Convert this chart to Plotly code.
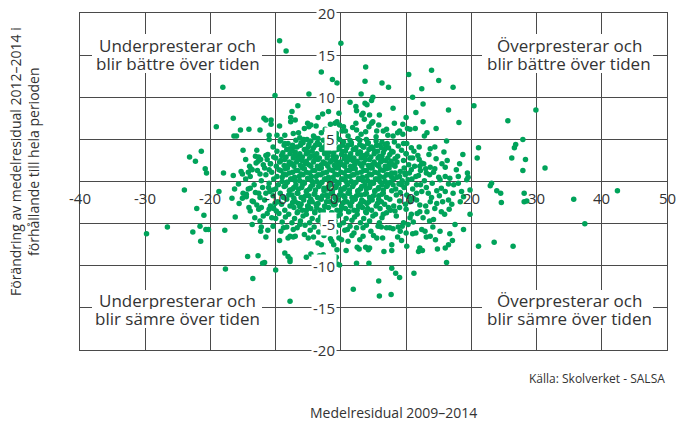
import plotly.graph_objects as go

# ---------------- data ----------------
upper_left = [(-9.4,16.7),(-8.4,15.5),(0.0,16.4),(-3.0,13.0),(-1.3,12.1),(-0.6,11.7),(-18.1,11.2),(-10.1,10.2),(-4.9,10.4),
    (-19.1,6.5),(-16.5,7.5),(-15.4,6.1),(-14.1,6.2),(-12.4,6.1),(-11.8,7.5),(-11.5,7.3),(-10.7,7.3),(-10.7,6.8),(-9.4,6.6),
    (-7.5,8.3),(-6.6,9.0),(-7.7,7.6),(-7.7,7.1),(-7.0,7.3),(-5.1,6.9),(-4.6,6.7),(-4.9,6.5),(-3.5,7.6),(-2.8,8.0),(-1.9,8.3),
    (-16.4,5.4),(-16.0,5.4),(-11.0,5.5),(-11.0,5.0),(-9.8,5.5),(-9.2,5.0),(-6.5,5.8),(-6.3,5.2),(-5.7,5.0),(-3.5,5.1),(-1.9,5.2),
    (-0.7,5.3),(-23.2,2.9),(-22.3,2.4),(-21.4,3.6),(-20.8,1.5),(-20.6,1.0),(-18.0,1.0),(-15.0,3.7),(-14.6,2.6),(-15.1,0.9),
    (-12.9,3.7),(-13.1,3.0),(-12.6,2.9),(-12.7,2.4),(-13.8,1.5),(-13.6,1.4),(-14.2,1.1),(-12.4,0.9),(-11.5,3.1),(-11.3,2.6),
    (-11.9,2.0),(-11.0,1.4),(-10.8,2.1),(-10.3,2.9)]

upper_right = [(3.8,13.6),(3.7,11.9),(6.3,11.7),(7.3,11.2),(10.4,12.7),(13.9,13.2),(15.0,12.0),(17.2,11.2),(12.4,11.0),
    (3.1,10.4),(4.9,10.0),(4.7,9.6),(1.4,9.4),(2.4,8.4),(2.3,8.9),(3.7,9.3),(4.0,9.1),(3.4,8.1),(3.2,7.9),(3.6,7.4),(4.4,7.9),
    (4.9,7.1),(5.9,7.9),(8.0,8.7),(11.0,10.0),(12.6,9.2),(11.5,8.2),(10.0,7.6),(9.5,6.8),(10.6,6.2),(11.4,6.3),(12.6,7.1),
    (13.2,5.8),(16.5,8.5),(18.1,7.0),(20.4,9.0),(-0.3,8.1),(-0.9,6.9),(-0.6,7.1),(-0.2,6.7),(0.4,6.5),(0.2,6.0),(0.7,6.0),
    (2.3,6.9),(2.4,6.1),(3.8,5.9),(4.3,6.5),(4.7,6.9),(5.5,6.0),(6.5,6.0),(8.7,5.8),(9.0,6.0),(8.0,5.4),(10.2,6.3),(16.2,4.8),
    (21.1,4.0),(20.9,2.8),(15.8,3.5),(14.4,4.1),(13.7,3.9),(12.0,4.1),(18.7,3.2),(18.2,2.1),(17.7,1.4),(18.0,0.6),(16.7,0.4),
    (19.4,1.0),(19.5,0.5),(13.7,1.7),(14.4,1.5),(15.0,0.5),(13.1,1.0),(12.0,2.6),(12.1,1.8),(12.7,2.1),(10.8,1.4),(11.9,0.7),
    (10.1,4.5),(10.0,3.3),(10.6,2.8),(6.3,4.7),(5.5,4.3),(3.5,4.1),(4.6,4.0),(7.8,0.5),(9.0,0.6),(9.8,1.0),
    (29.9,8.5),(25.6,7.2),(27.9,5.0),(26.8,4.4),(26.6,4.0),(26.2,2.8),(28.3,2.6),(27.9,1.3),(31.3,1.6)]

lower_left = [(-24.0,-1.0),(-22.1,-3.2),(-21.0,-4.0),(-21.6,-5.3),(-22.7,-6.0),(-20.7,-5.7),(-20.3,-5.7),(-21.5,-7.1),
    (-18.7,-1.2),(-17.8,-5.8),(-17.7,-10.4),(-13.5,-11.5),(-14.3,-8.9),(-12.7,-8.8),(-12.0,-9.7),(-11.7,-9.6),(-10.0,-10.5),
    (-16.7,-2.0),(-16.3,-0.9),(-16.2,-4.2),(-15.6,-2.6),(-15.1,-2.0),(-14.5,-1.5),(-15.0,-1.4),(-13.9,-0.8),(-12.6,-1.4),
    (-14.1,-3.1),(-13.9,-3.5),(-13.2,-4.3),(-13.6,-5.1),(-12.4,-4.7),(-12.2,-5.4),(-12.3,-5.9),(-11.5,-6.6),(-11.3,-3.8),
    (-11.0,-3.3),(-11.9,-4.1),(-10.6,-4.3),(-11.5,-1.4),(-11.1,-0.7),(-10.4,-1.0),(-12.9,-2.8),(-13.4,-2.4),(-12.2,-3.1),
    (-10.1,-2.6),(-9.9,-3.5),(-9.4,-7.0),(-8.8,-5.5),(-8.6,-8.5),(-7.8,-9.2),(-8.1,-8.9),(-7.8,-9.5),(-7.8,-6.5),(-8.1,-6.7),
    (-7.3,-6.6),(-6.7,-5.5),(-7.3,-5.7),(-6.3,-5.1),(-5.3,-9.0),(-4.6,-8.6),(-3.3,-8.8),(-2.7,-8.7),(-1.4,-7.1),(-3.5,-7.3),
    (-3.0,-7.5),(-5.0,-6.7),(-0.9,-9.3),(-0.6,-9.8),(-7.8,-14.2),(-29.8,-6.2),(-26.6,-5.4)]

lower_right = [(1.9,-12.8),(5.9,-13.6),(7.7,-13.4),(5.8,-11.8),(7.8,-10.3),(8.4,-10.9),(9.0,-11.4),(11.2,-10.9),(16.2,-9.6),
    (2.4,-9.7),(4.3,-9.7),(-0.7,-9.0),(-0.2,-9.9),(0.8,-8.2),(2.5,-7.8),(2.8,-8.0),(3.8,-7.8),(4.2,-8.1),(6.6,-8.3),
    (7.8,-8.2),(7.8,-7.5),(10.1,-7.7),(9.3,-7.0),(11.9,-8.3),(12.1,-7.9),(12.5,-8.2),(14.8,-8.0),(16.0,-7.9),(16.5,-7.5),
    (17.1,-7.0),(16.7,-6.2),(15.2,-5.9),(13.1,-6.6),(13.7,-6.5),(12.4,-5.7),(12.9,-5.9),(11.5,-6.1),(10.0,-6.1),(10.3,-5.1),
    (8.8,-5.4),(8.0,-5.6),(7.5,-5.5),(17.5,-5.1),(18.8,-5.7),(14.2,-4.5),(13.2,-3.6),(15.4,-3.6),(16.6,-3.3),(16.5,-2.2),
    (18.3,-2.4),(19.8,-3.9),(19.8,-1.0),(18.5,-1.2),(18.8,-1.8),(16.0,-1.2),(14.7,-2.6),(13.7,-2.4),(12.1,-3.6),(10.8,-3.9),
    (10.6,-4.3),(9.6,-4.9),(8.5,-4.1),(9.0,-3.1),(8.3,-3.5),(12.1,-2.8),(13.4,-1.4),(14.7,-1.1),(16.5,-0.3),(18.0,-0.2),
    (19.3,0.2),(11.6,-0.4),(9.3,-0.4),(8.0,-0.4),(10.3,0.2),(11.6,-1.4),(11.1,-2.0),(10.6,-2.4),(10.1,-1.6),(7.3,-3.1),
    (6.5,-3.9),(5.7,-5.3),(7.0,-5.5),(5.5,-6.7),(6.4,-6.7),(4.4,-7.9),(3.4,-6.5),(5.0,-6.4),(3.4,-5.5),(2.4,-5.5),(1.0,-5.7),
    (1.1,-7.1),(0.1,-6.9),(-0.3,-6.7),(-1.1,-7.5),(-0.6,-8.1),
    (42.4,-1.1),(35.7,-2.1),(37.4,-5.0),(28.1,-1.4),(28.1,-2.4),(28.5,-2.3),(24.6,-2.5),(24.5,-1.4),(23.9,-1.1),(22.9,-0.5),
    (23.1,-0.2),(21.1,-7.7),(23.5,-7.2),(26.4,-7.7)]

core_top = [(-8.6,5.5),(-7.3,5.7),(-4.2,5.4),(-3.0,5.8),(-1.9,5.5),(-0.7,5.7),(1.1,5.4),(3.1,5.6),(5.4,5.3),(7.2,5.5),(9.5,5.6),(12.8,5.4),
    (-5.6,6.3),(-3.8,6.6),(-2.4,6.2),(-1.6,6.8),(1.8,6.4),(5.8,6.7),(7.0,6.2),(8.2,6.9),(14.6,6.3),
    (-9.3,4.8),(-8.1,4.5),(-6.9,4.9),(-5.8,4.6),(-4.6,4.8),(-3.3,4.4),(-2.2,4.9),(-0.9,4.6),(0.4,4.7),(1.6,4.4),(2.9,4.9),(4.1,4.5),(5.4,4.8),(6.8,4.4),(8.2,4.7),(9.6,4.5),
    (-10.4,4.1),(-8.7,4.3),(-7.4,4.0),(-6.2,4.3),(-5.0,4.1),(-3.9,4.3),(-2.7,4.0),(-1.4,4.3),(-0.2,4.1),(1.1,4.3),(2.3,4.0),(3.3,4.2),(4.7,4.1),(6.0,4.3),(7.3,4.0),(8.8,4.2),(10.8,4.0),
    (-9.8,3.6),(-8.3,3.8),(-7.0,3.5),(-5.6,3.8),(-4.4,3.6),(-3.0,3.8),(-1.8,3.5),(-0.6,3.8),(0.7,3.6),(1.9,3.8),(3.0,3.5),(4.3,3.8),(5.6,3.6),(6.7,3.8),(8.0,3.5),(9.3,3.7),(11.2,3.6),
    (-11.2,3.2),(-9.1,3.1),(-7.8,3.3),(-6.5,3.0),(-5.3,3.3),(-4.0,3.1),(-2.5,3.3),(-1.2,3.0),(0.1,3.2),(1.4,3.0),(2.6,3.3),(3.8,3.1),(5.1,3.3),(6.3,3.0),(7.5,3.2),(8.7,3.0),(10.0,3.3),(11.8,3.1),(13.5,3.2),
    (-12.3,2.6),(-10.0,2.8),(-8.6,2.6),(-7.3,2.8),(-6.0,2.5),(-4.8,2.8),(-3.5,2.6),(-2.1,2.8),(-0.8,2.5),(0.5,2.7),(1.8,2.5),(3.1,2.8),(4.4,2.6),(5.7,2.8),(6.9,2.5),(8.3,2.7),(9.6,2.5),(11.0,2.8),(14.6,2.7),(16.3,2.5),
    (-13.0,2.2),(-10.8,2.1),(-9.4,2.3),(-8.0,2.0),(-6.8,2.3),(-5.5,2.1),(-4.2,2.3),(-3.0,2.0),(-1.6,2.3),(-0.4,2.1),(0.9,2.3),(2.1,2.0),(3.5,2.2),(4.8,2.0),(6.1,2.3),(7.4,2.1),(8.6,2.3),(10.4,2.0),(12.4,2.2),(15.5,2.1),
    (-14.0,1.8),(-11.7,1.6),(-9.9,1.8),(-8.5,1.5),(-7.2,1.8),(-5.9,1.6),(-4.6,1.8),(-3.3,1.5),(-2.0,1.8),(-0.7,1.6),(0.6,1.8),(1.8,1.5),(3.2,1.8),(4.5,1.6),(5.8,1.8),(7.0,1.5),(8.3,1.8),(9.7,1.6),(11.3,1.8),(13.0,1.5),(16.0,1.7),
    (-15.3,1.2),(-12.8,1.3),(-10.6,1.1),(-9.2,1.3),(-7.9,1.0),(-6.6,1.3),(-5.3,1.1),(-4.0,1.3),(-2.7,1.0),(-1.3,1.3),(0.0,1.1),(1.3,1.3),(2.5,1.0),(3.9,1.3),(5.2,1.1),(6.5,1.3),(7.8,1.0),(9.1,1.2),(10.5,1.0),(12.2,1.3),(14.2,1.1),
    (-16.5,0.7),(-13.9,0.6),(-11.5,0.8),(-9.8,0.6),(-8.4,0.8),(-7.1,0.5),(-5.8,0.8),(-4.5,0.6),(-3.1,0.8),(-1.9,0.5),(-0.5,0.8),(0.8,0.6),(2.0,0.8),(3.3,0.5),(4.7,0.8),(6.0,0.6),(7.3,0.8),(8.6,0.5),(9.9,0.8),(11.5,0.6),(13.6,0.8),(16.0,0.6),
    (-14.6,0.3),(-12.2,0.1),(-10.3,0.3),(-9.0,0.0),(-7.6,0.3),(-6.3,0.1),(-5.0,0.3),(-3.7,0.0),(-2.4,0.3),(-1.0,0.1),(0.3,0.3),(1.6,0.0),(2.9,0.3),(4.1,0.1),(5.5,0.3),(6.8,0.0),(8.1,0.3),(9.4,0.1),(10.9,0.3),(12.8,0.1),(15.2,0.2)]

core_bottom = [(-15.7,-0.3),(-13.3,-0.4),(-11.0,-0.2),(-9.6,-0.4),(-8.2,-0.1),(-6.9,-0.4),(-5.6,-0.2),(-4.3,-0.4),(-2.9,-0.1),(-1.6,-0.4),(-0.3,-0.2),(1.0,-0.4),(2.3,-0.1),(3.7,-0.4),(5.0,-0.2),(6.3,-0.4),(7.6,-0.1),(8.9,-0.3),(10.1,-0.2),(12.2,-0.4),(14.0,-0.2),(17.3,-0.4),
    (-14.2,-0.9),(-12.0,-0.7),(-10.0,-0.9),(-8.7,-0.6),(-7.4,-0.9),(-6.0,-0.7),(-4.8,-0.9),(-3.4,-0.6),(-2.1,-0.9),(-0.8,-0.7),(0.5,-0.9),(1.8,-0.6),(3.0,-0.9),(4.4,-0.7),(5.7,-0.9),(7.0,-0.6),(8.4,-0.9),(9.7,-0.7),(11.0,-0.9),(13.1,-0.7),(15.4,-0.8),
    (-13.1,-1.3),(-10.9,-1.2),(-9.3,-1.4),(-7.9,-1.1),(-6.6,-1.4),(-5.3,-1.2),(-4.0,-1.4),(-2.6,-1.1),(-1.3,-1.4),(0.0,-1.2),(1.3,-1.4),(2.6,-1.1),(3.9,-1.4),(5.2,-1.2),(6.5,-1.4),(7.8,-1.1),(9.1,-1.3),(12.4,-1.2),(17.2,-1.4),
    (-14.5,-1.8),(-12.4,-1.9),(-10.4,-1.7),(-8.8,-1.9),(-7.5,-1.6),(-6.1,-1.9),(-4.9,-1.7),(-3.6,-1.9),(-2.2,-1.6),(-0.9,-1.9),(0.4,-1.7),(1.7,-1.9),(3.1,-1.6),(4.4,-1.9),(5.8,-1.7),(7.0,-1.9),(8.5,-1.6),(10.4,-1.8),(13.9,-1.9),(15.1,-1.7),
    (-13.6,-2.3),(-11.7,-2.2),(-9.7,-2.4),(-8.3,-2.1),(-7.0,-2.4),(-5.7,-2.2),(-4.4,-2.4),(-3.0,-2.1),(-1.7,-2.4),(-0.4,-2.2),(0.9,-2.4),(2.2,-2.1),(3.5,-2.4),(4.8,-2.2),(6.2,-2.4),(7.5,-2.1),(9.0,-2.3),(11.6,-2.2),(15.6,-2.4),
    (-10.8,-2.9),(-9.1,-2.7),(-7.8,-2.9),(-6.5,-2.6),(-5.1,-2.9),(-3.8,-2.7),(-2.5,-2.9),(-1.2,-2.6),(0.1,-2.9),(1.4,-2.7),(2.7,-2.9),(4.0,-2.6),(5.4,-2.9),(6.7,-2.7),(8.1,-2.9),(9.9,-2.7),(13.0,-2.9),(17.0,-2.7),
    (-12.6,-3.3),(-10.3,-3.2),(-8.6,-3.4),(-7.2,-3.1),(-5.9,-3.4),(-4.6,-3.2),(-3.2,-3.4),(-1.9,-3.1),(-0.6,-3.4),(0.7,-3.2),(2.0,-3.4),(3.3,-3.1),(4.7,-3.4),(6.0,-3.2),(7.6,-3.4),(10.0,-3.3),(14.4,-3.2),
    (-9.5,-3.8),(-8.0,-3.9),(-6.7,-3.7),(-5.3,-3.9),(-4.0,-3.6),(-2.7,-3.9),(-1.4,-3.7),(-0.1,-3.9),(1.2,-3.6),(2.5,-3.9),(3.9,-3.7),(5.3,-3.9),(7.0,-3.7),(11.7,-3.8),(15.9,-3.9),
    (-10.0,-4.4),(-8.5,-4.2),(-7.1,-4.4),(-5.8,-4.1),(-4.4,-4.4),(-3.1,-4.2),(-1.8,-4.4),(-0.5,-4.1),(0.8,-4.4),(2.1,-4.2),(3.5,-4.4),(4.9,-4.1),(6.3,-4.3),(12.6,-4.3),
    (-9.0,-4.8),(-7.5,-4.9),(-6.2,-4.7),(-4.8,-4.9),(-3.5,-4.6),(-2.2,-4.9),(-0.9,-4.7),(0.4,-4.9),(1.7,-4.6),(3.0,-4.9),(4.4,-4.7),(5.9,-4.9),(11.1,-4.8),(13.6,-4.7),
    (-10.4,-5.3),(-8.3,-5.4),(-5.5,-5.2),(-4.1,-5.4),(-2.8,-5.1),(-1.5,-5.4),(-0.2,-5.2),(1.4,-5.3),(3.9,-5.2),(6.2,-5.4),(9.4,-5.3),(14.1,-5.4),
    (-11.2,-5.8),(-9.2,-5.9),(-4.7,-5.8),(-3.4,-6.0),(-2.0,-5.7),(-0.8,-6.0),(0.6,-5.8),(2.0,-6.1),(4.6,-5.9),(9.1,-5.9),(11.0,-6.2),
    (-7.0,-6.5),(-5.6,-6.3),(-4.2,-6.6),(-2.6,-6.4),(-1.6,-6.8),(1.7,-6.4),(2.9,-6.9),(8.7,-6.6),(14.5,-6.9)]

core_fill = [(-8.6,4.5),(-7.4,4.3),(-6.1,4.6),(-4.9,4.4),(-3.6,4.6),(-2.3,4.3),(-1.0,4.5),(0.3,4.3),(1.6,4.6),(2.9,4.4),(4.2,4.6),(5.5,4.3),(7.1,4.5),
    (-8.9,3.4),(-7.6,3.6),(-6.3,3.3),(-5.0,3.5),(-3.7,3.3),(-2.4,3.6),(-1.1,3.4),(0.2,3.6),(1.5,3.3),(2.8,3.5),(4.0,3.3),(5.2,3.6),(6.5,3.4),(7.8,3.6),
    (-9.2,2.5),(-7.9,2.3),(-6.6,2.6),(-5.3,2.4),(-4.0,2.6),(-2.7,2.3),(-1.4,2.5),(-0.1,2.3),(1.2,2.6),(2.5,2.4),(3.8,2.6),(5.1,2.3),(6.4,2.5),(7.7,2.4),
    (-9.5,1.4),(-8.2,1.6),(-6.9,1.3),(-5.6,1.5),(-4.3,1.3),(-3.0,1.6),(-1.7,1.4),(-0.4,1.6),(0.9,1.3),(2.2,1.5),(3.5,1.3),(4.8,1.6),(6.1,1.4),(7.4,1.6),
    (-9.0,0.5),(-7.7,0.3),(-6.4,0.6),(-5.1,0.4),(-3.8,0.6),(-2.5,0.3),(-1.2,0.5),(0.1,0.3),(1.4,0.6),(2.7,0.4),(4.0,0.6),(5.3,0.3),(6.6,0.5),
    (-8.5,-0.5),(-7.2,-0.7),(-5.9,-0.4),(-4.6,-0.6),(-3.3,-0.4),(-2.0,-0.7),(-0.7,-0.5),(0.6,-0.7),(1.9,-0.4),(3.2,-0.6),(4.5,-0.4),(5.8,-0.7),(7.1,-0.5),
    (-8.0,-1.6),(-6.7,-1.4),(-5.4,-1.7),(-4.1,-1.5),(-2.8,-1.7),(-1.5,-1.4),(-0.2,-1.6),(1.1,-1.4),(2.4,-1.7),(3.7,-1.5),(5.0,-1.7),(6.3,-1.5),
    (-7.4,-2.5),(-6.1,-2.7),(-4.8,-2.4),(-3.5,-2.6),(-2.2,-2.4),(-0.9,-2.7),(0.4,-2.5),(1.7,-2.4),(3.0,-2.6),(4.3,-2.4),(5.6,-2.6),
    (-6.6,-3.6),(-5.3,-3.4),(-4.0,-3.7),(-2.7,-3.5),(-1.4,-3.7),(-0.1,-3.4),(1.2,-3.6),(2.5,-3.4),(3.8,-3.6)]

core_fill2 = [(-7.9,3.9),(-6.7,4.1),(-5.4,3.8),(-4.2,4.0),(-2.9,3.9),(-1.7,4.1),(-0.4,3.9),(0.9,4.0),(2.2,3.8),(3.5,4.1),(4.9,3.9),(6.2,4.0),
    (-8.4,2.9),(-7.1,3.1),(-5.9,2.9),(-4.6,3.0),(-3.3,2.8),(-2.0,3.1),(-0.7,2.9),(0.7,3.0),(2.0,2.8),(3.3,3.1),(4.6,2.9),(5.9,3.0),(7.2,2.8),
    (-8.7,1.9),(-7.5,2.1),(-6.2,1.9),(-4.9,2.0),(-3.6,1.8),(-2.3,2.1),(-1.0,1.9),(0.3,2.0),(1.5,1.8),(2.9,2.1),(4.2,1.9),(5.5,2.0),(6.8,1.8),(8.0,2.0),
    (-8.8,0.9),(-7.4,1.1),(-6.1,0.9),(-4.8,1.0),(-3.5,0.8),(-2.2,1.1),(-0.9,0.9),(0.5,1.0),(1.8,0.8),(3.1,1.1),(4.4,0.9),(5.7,1.0),(7.0,0.8),(8.3,1.0),
    (-8.3,-0.1),(-7.0,0.1),(-5.7,-0.1),(-4.4,0.0),(-3.1,-0.2),(-1.8,0.1),(-0.5,-0.1),(0.8,0.0),(2.1,-0.2),(3.4,0.1),(4.7,-0.1),(6.0,0.0),(7.3,-0.2),
    (-7.8,-1.0),(-6.5,-0.9),(-5.2,-1.1),(-3.9,-1.0),(-2.6,-0.8),(-1.3,-1.1),(0.0,-0.9),(1.3,-1.0),(2.6,-1.2),(3.9,-0.9),(5.2,-1.1),(6.5,-1.0),
    (-7.2,-2.0),(-5.9,-1.9),(-4.6,-2.1),(-3.3,-2.0),(-2.0,-1.8),(-0.7,-2.1),(0.6,-1.9),(1.9,-2.0),(3.2,-2.2),(4.5,-1.9),(5.8,-2.1),
    (-6.3,-3.0),(-5.0,-2.9),(-3.7,-3.1),(-2.4,-3.0),(-1.1,-2.8),(0.2,-3.1),(1.5,-2.9),(2.8,-3.0),(4.1,-3.2),
    (-5.2,5.0),(-4.0,5.2),(-2.7,4.9),(-1.5,5.1),(-0.2,5.0),(1.4,4.9),(2.6,5.1),(3.9,5.0)]

x_ticks = [-40, -30, -20, -10, 0, 10, 20, 30, 40, 50]
x_tick_labels = ["-40", "-30", "-20", "-10", "0", "10", "20", "30", "40", "50"]
y_ticks = [-20, -15, -10, -5, 0, 5, 10, 15, 20]
y_tick_labels = ["-20", "-15", "-10", "-5", "0", "5", "10", "15", "20"]

quadrant_lines = [("Underpresterar och", "blir bättre över tiden"), ("Överpresterar och", "blir bättre över tiden"),
                  ("Underpresterar och", "blir sämre över tiden"), ("Överpresterar och", "blir sämre över tiden")]
quadrant_pos = [(-25, 15), (35, 15), (-25, -15), (35, -15)]

x_title = "Medelresidual 2009–2014"
y_title = "Förändring av medelresidual 2012–2014 i<br>förhållande till hela perioden"
source = "Källa: Skolverket - SALSA"

# ---------------- figure ----------------
pts = upper_left + upper_right + lower_left + lower_right + core_top + core_bottom + core_fill + core_fill2
xs = [p[0] for p in pts]
ys = [p[1] for p in pts]

FONT = "Open Sans"
TXT = "#333333"
GRID = "#4a4a4a"
L, R, T, B = 80, 667, 13, 350          # plot area in pixels
W, H = 681, 425

fig = go.Figure()
fig.add_trace(go.Scatter(x=xs, y=ys, mode="markers",
                         marker=dict(size=5.5, color="#00a35a", line=dict(width=0)),
                         hoverinfo="skip", showlegend=False))

fig.update_xaxes(range=[-40, 50], tickvals=x_ticks, showticklabels=False, ticks="",
                 showgrid=True, gridcolor=GRID, gridwidth=1,
                 zeroline=True, zerolinecolor=GRID, zerolinewidth=1,
                 showline=True, linecolor=GRID, linewidth=1, mirror=True, fixedrange=True)
fig.update_yaxes(range=[-20, 20], tickvals=y_ticks, showticklabels=False, ticks="",
                 showgrid=True, gridcolor=GRID, gridwidth=1,
                 zeroline=True, zerolinecolor=GRID, zerolinewidth=1,
                 showline=True, linecolor=GRID, linewidth=1, mirror=True, fixedrange=True)

def px_to_x(px):
    return -40 + (px - L) / (R - L) * 90

def py_to_y(py):
    return 20 - (py - T) / (B - T) * 40

# white boxes behind the quadrant labels (hide grid lines there)
box_px = [((92, 262), (34, 73)), ((482, 653), (34, 73)), ((92, 262), (290, 328)), ((482, 653), (290, 328))]
shapes = []
for (x0, x1), (y0, y1) in box_px:
    shapes.append(dict(type="rect", xref="x", yref="y", x0=px_to_x(x0), x1=px_to_x(x1),
                       y0=py_to_y(y1), y1=py_to_y(y0), fillcolor="white", line=dict(width=0), layer="above"))

ann = []
for v, t in zip(x_ticks, x_tick_labels):
    ann.append(dict(x=v, y=0, xref="x", yref="y", text=t, showarrow=False,
                    xanchor="center", yanchor="middle", yshift=-16, xshift=(-6 if v == 0 else 0),
                    font=dict(family=FONT, size=15, color=TXT)))
for v, t in zip(y_ticks, y_tick_labels):
    ann.append(dict(x=0, y=v, xref="x", yref="y", text=t, showarrow=False,
                    xanchor="right", yanchor="middle", xshift=-4, yshift=(-3 if v == 0 else 0),
                    bgcolor=("rgba(0,0,0,0)" if v == 0 else "white"), borderpad=1,
                    font=dict(family=FONT, size=15, color=TXT)))
shifts = [(10.5, -8), (10.5, -8), (8, -10.5), (8, -10.5)]
for (qx, qy), (l1, l2), (s1, s2) in zip(quadrant_pos, quadrant_lines, shifts):
    for t, sh in ((l1, s1), (l2, s2)):
        ann.append(dict(x=qx, y=qy, xref="x", yref="y", text=t, showarrow=False,
                        xanchor="center", yanchor="middle", yshift=sh, height=18,
                        font=dict(family=FONT, size=17, color=TXT)))

ann.append(dict(x=(393 - L) / (R - L), y=(B - 413) / (B - T), xref="paper", yref="paper", text=x_title,
                showarrow=False, xanchor="center", yanchor="middle",
                font=dict(family=FONT, size=14, color=TXT)))
ann.append(dict(x=(25 - L) / (R - L), y=(B - 162) / (B - T), xref="paper", yref="paper", text=y_title,
                showarrow=False, xanchor="center", yanchor="middle", textangle=-90,
                font=dict(family=FONT, size=14, color=TXT)))
ann.append(dict(x=1, y=(B - 378) / (B - T), xref="paper", yref="paper", text=source,
                showarrow=False, xanchor="right", yanchor="middle",
                font=dict(family=FONT, size=12, color=TXT)))

fig.update_layout(width=W, height=H, margin=dict(l=L, r=W - R, t=T, b=H - B),
                  paper_bgcolor="white", plot_bgcolor="white", annotations=ann, shapes=shapes,
                  font=dict(family=FONT, color=TXT))

fig.write_html("out.html", config={"displayModeBar": False},
               post_script="document.body.style.margin='0px';")
